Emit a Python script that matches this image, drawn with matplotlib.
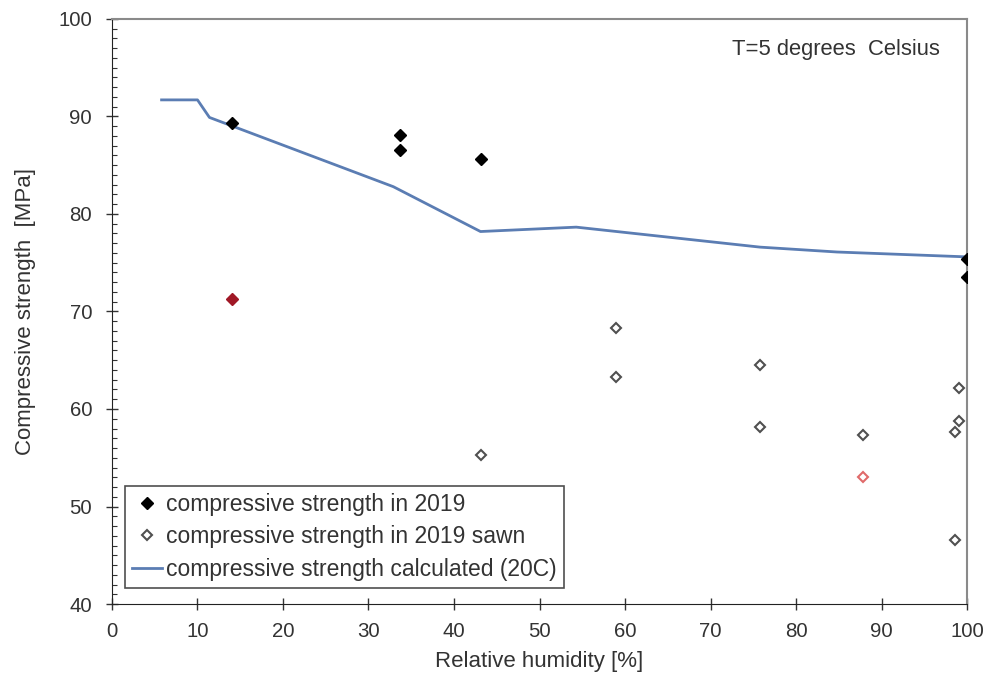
import matplotlib
matplotlib.use("Agg")
import matplotlib.pyplot as plt
from matplotlib.ticker import MultipleLocator

plt.rcParams['font.family'] = ['Liberation Sans', 'DejaVu Sans']

# measured compressive strength in 2019 (filled black)
rh_2019 = [14.0, 33.7, 33.7, 43.1, 100.0, 100.0]
fc_2019 = [89.3, 88.1, 86.6, 85.6, 75.4, 73.5]

# outlier (filled red)
rh_2019_out = [14.0]
fc_2019_out = [71.3]

# sawn specimens (open diamonds)
rh_sawn = [43.1, 58.9, 58.9, 75.8, 75.8, 87.8, 99.1, 99.1, 98.6, 98.6]
fc_sawn = [55.3, 68.3, 63.3, 64.5, 58.2, 57.3, 62.2, 58.8, 57.6, 46.6]

# sawn outlier (open red)
rh_sawn_out = [87.8]
fc_sawn_out = [53.0]

# calculated strength (20C)
rh_calc = [5.8, 10.0, 11.4, 32.9, 43.1, 54.3, 75.8, 84.8, 100.0]
fc_calc = [91.7, 91.7, 89.9, 82.8, 78.2, 78.65, 76.6, 76.1, 75.6]

x_ticks = list(range(0, 101, 10))
y_ticks = list(range(40, 101, 10))

txt = '#333333'
fs_tick = 14.7
fs_lab = 16.0
fs_leg = 16.5
fs_note = 15.8

fig = plt.figure(figsize=(9.91, 6.77), dpi=100)
ax = fig.add_axes([0.113, 0.1078, 0.8628, 0.8642])

ax.plot(rh_2019, fc_2019, linestyle='none', marker='D', markersize=5.8,
        color='black', label='compressive strength in 2019', zorder=4)
ax.plot(rh_2019_out, fc_2019_out, linestyle='none', marker='D', markersize=5.8,
        color='#A01826', zorder=4)
ax.plot(rh_sawn, fc_sawn, linestyle='none', marker='D', markersize=4.6,
        markerfacecolor='white', markeredgecolor='#505050', markeredgewidth=1.5,
        label='compressive strength in 2019 sawn', zorder=4)
ax.plot(rh_sawn_out, fc_sawn_out, linestyle='none', marker='D', markersize=4.6,
        markerfacecolor='white', markeredgecolor='#E06A6A', markeredgewidth=1.5,
        zorder=4)
ax.plot(rh_calc, fc_calc, color='#5B7DB3', linewidth=2.0,
        label='compressive strength calculated (20C)', zorder=3)

ax.set_xlim(0, 100)
ax.set_ylim(40, 100)
ax.set_xticks(x_ticks)
ax.set_yticks(y_ticks)
ax.yaxis.set_minor_locator(MultipleLocator(1))

ax.tick_params(axis='both', which='major', direction='inout', length=8.6, width=1,
               color='#333333', labelsize=fs_tick, labelcolor=txt)
ax.tick_params(axis='y', which='major', pad=10.0)
ax.tick_params(axis='x', which='major', pad=8.5)
ax.tick_params(axis='y', which='minor', direction='in', length=3.3, width=0.8,
               color='#333333')
ax.tick_params(top=False, right=False)

ax.spines['left'].set_color('#222222')
ax.spines['bottom'].set_color('#222222')
ax.spines['top'].set_color('#8a8a8a')
ax.spines['right'].set_color('#8a8a8a')
ax.spines['top'].set_linewidth(1.5)
ax.spines['right'].set_linewidth(1.5)

ax.set_xlabel('Relative humidity [%]', fontsize=fs_lab, color=txt, labelpad=7)
ax.set_ylabel('Compressive strength  [MPa]', fontsize=fs_lab, color=txt, labelpad=16)

ax.text(0.968, 0.966, 'T=5 degrees  Celsius', transform=ax.transAxes,
        ha='right', va='top', fontsize=fs_note, color=txt)

leg = ax.legend(loc='lower left', bbox_to_anchor=(0.0152, 0.0274), fontsize=fs_leg,
                frameon=True, fancybox=False, edgecolor='#222222',
                handlelength=1.3, handletextpad=0.2, borderpad=0.3,
                labelspacing=0.42, borderaxespad=0, labelcolor=txt)
leg.get_frame().set_linewidth(1.2)

fig.savefig('out.png', dpi=100)
